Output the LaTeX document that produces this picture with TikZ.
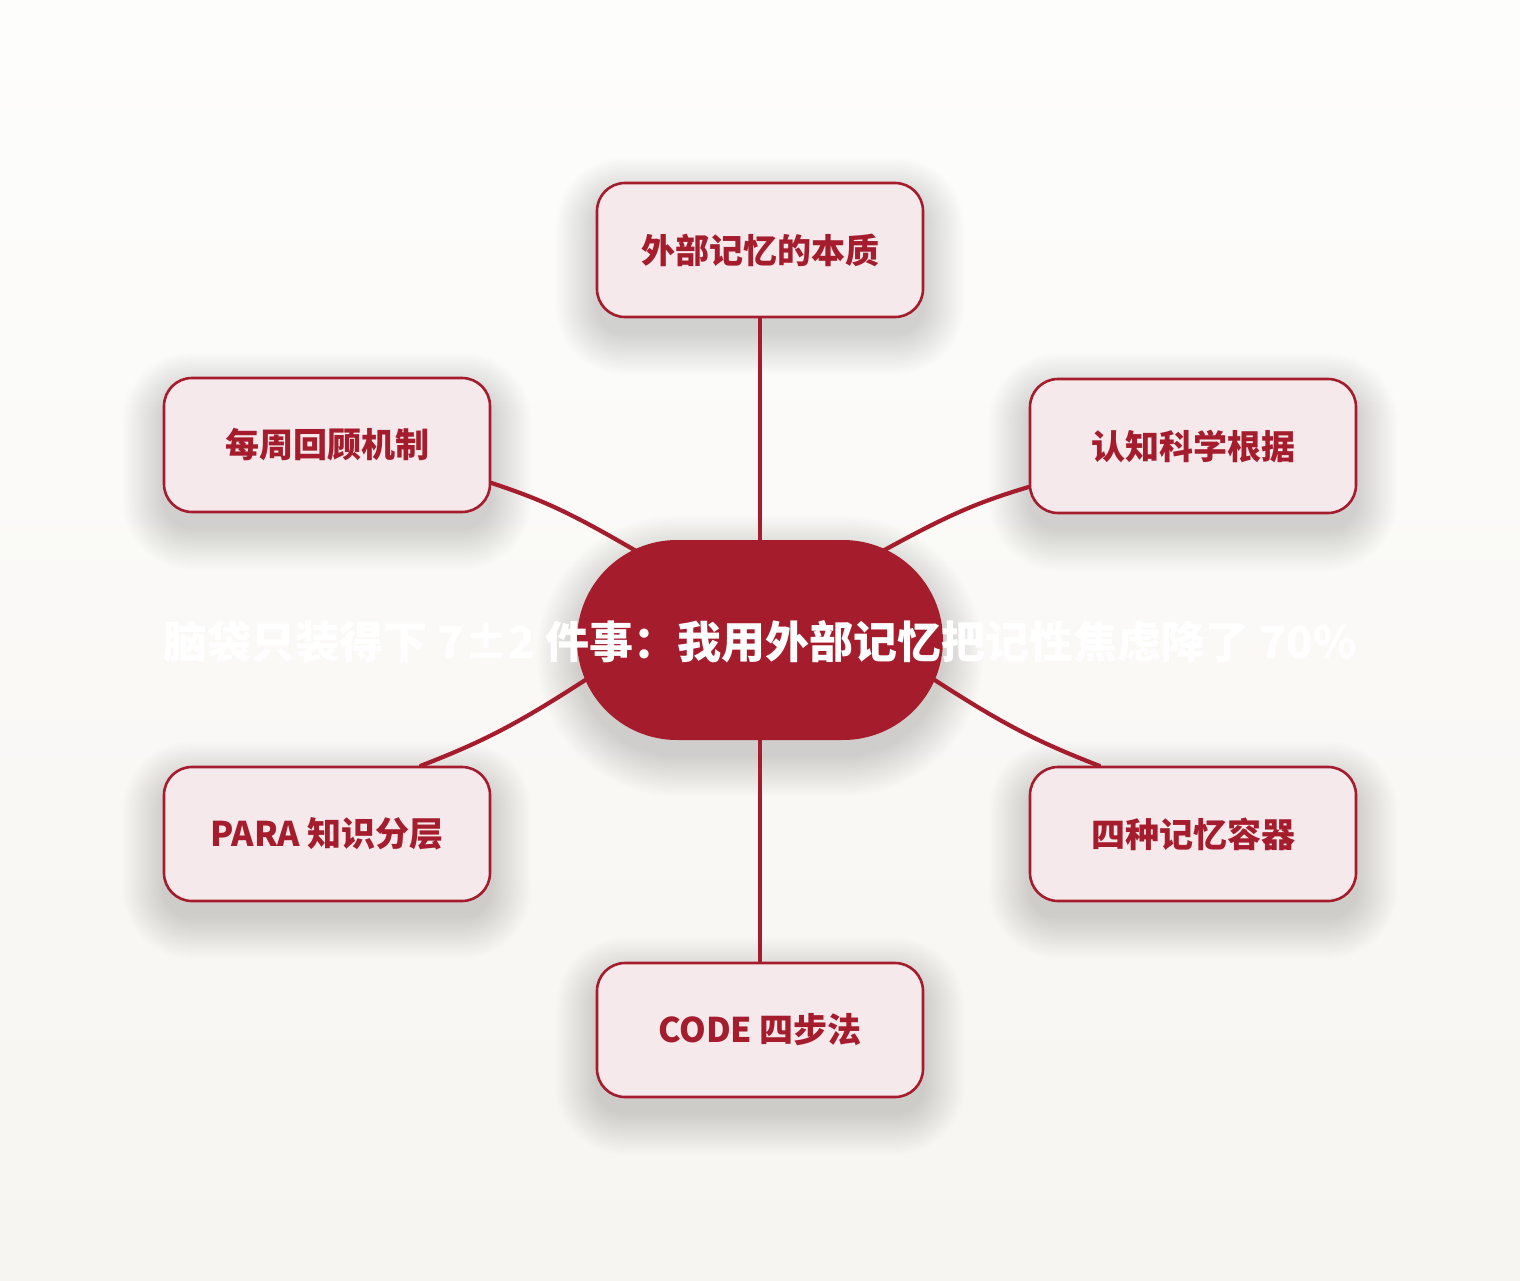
\documentclass[tikz,border=0pt]{standalone}
\usepackage{fontspec}
\setmainfont{Noto Sans CJK SC}
\definecolor{crim}{HTML}{A51C2C}
\definecolor{boxfill}{HTML}{F5E9EC}
\definecolor{bgtop}{HTML}{FDFDFC}
\definecolor{bgbot}{HTML}{F7F5F1}
\pgfdeclarelayer{bglayer}
\pgfdeclarelayer{shadowlayer}
\pgfdeclarelayer{linelayer}
\pgfsetlayers{bglayer,shadowlayer,linelayer,main}
\newcommand\shadowof[2]{%
  \foreach \i in {0,2,...,40}{%
    \fill[black, opacity=0.0075, rounded corners=#2+\i*0.5pt]
      ([shift={(-\i,-\i+16)}]#1.north west) rectangle ([shift={(\i,\i+16)}]#1.south east);
  }}
\begin{document}
\begin{tikzpicture}[x=0.5pt,y=-0.5pt,
  leaf/.style={draw=crim, line width=1.3pt, fill=boxfill, rounded corners=14pt,
    minimum width=163pt, minimum height=67pt, inner sep=0pt, text=crim,
    font=\bfseries\fontsize{17pt}{20pt}\selectfont},
  hub/.style={fill=crim, rounded corners=50pt, minimum width=183pt, minimum height=100pt, inner sep=0pt},
  titletext/.style={text=white, font=\bfseries\fontsize{22pt}{26pt}\selectfont, inner sep=0pt},
  conn/.style={draw=crim, line width=2.1pt, line cap=round}]
\useasboundingbox (0,0) rectangle (1520,1280);
\begin{pgfonlayer}{bglayer}
\fill[top color=bgtop, bottom color=bgbot] (0,0) rectangle (1520,1280);
\end{pgfonlayer}
\node[leaf] (top) at (760,250) {外部记忆的本质};
\node[leaf] (lt) at (327,445) {每周回顾机制};
\node[leaf] (rt) at (1193,446) {认知科学根据};
\node[leaf] (lb) at (327,834) {PARA 知识分层};
\node[leaf] (rb) at (1193,834) {四种记忆容器};
\node[leaf] (bot) at (760,1030) {CODE 四步法};
\node[hub] (c) at (760,640) {};
\node[titletext] (ct) at (760,642) {脑袋只装得下 7±2 件事：我用外部记忆把记性焦虑降了 70\%};
\begin{pgfonlayer}{shadowlayer}
\shadowof{top}{14pt}
\shadowof{lt}{14pt}
\shadowof{rt}{14pt}
\shadowof{lb}{14pt}
\shadowof{rb}{14pt}
\shadowof{bot}{14pt}
\shadowof{c}{50pt}
\end{pgfonlayer}
\begin{pgfonlayer}{linelayer}
\draw[conn] (c.north) -- (top.south);
\draw[conn] (c.south) -- (bot.north);
\draw[conn, shorten >=-12pt] (lt.-13) to[bend left=6] (c.145);
\draw[conn, shorten >=-12pt] (rt.194) to[bend right=6] (c.35);
\draw[conn, shorten >=-12pt] (lb.36) to[bend right=6] (c.194);
\draw[conn, shorten >=-12pt] (rb.144) to[bend left=6] (c.-14);
\end{pgfonlayer}
\end{tikzpicture}
\end{document}
